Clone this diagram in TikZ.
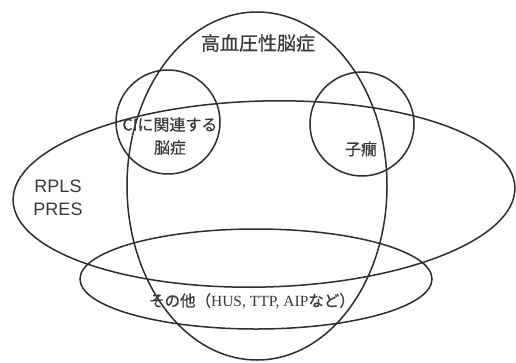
\documentclass[tikz,border=0pt]{standalone}
\usepackage{fontspec}
\setmainfont{Liberation Serif}
\newfontfamily\jpfont[FakeBold=0.6]{Noto Sans CJK JP}
\newfontfamily\lsans{Liberation Sans}
\definecolor{linec}{HTML}{2E2E2E}
\definecolor{textc}{HTML}{3A3A3A}
\begin{document}
\begin{tikzpicture}[x=1pt,y=-1pt,
  setline/.style={draw=linec,line width=1.5pt},
  lbl/.style={text=textc,inner sep=0pt,align=center}]
\useasboundingbox (0,0) rectangle (516,362);
\fill[white] (0,0) rectangle (516,362);
% tall ellipse
\draw[setline] (257,186) ellipse [x radius=130pt, y radius=174pt];
% big horizontal ellipse
\draw[setline,shift={(264,194)},rotate=1.5] (0,0) ellipse [x radius=251pt, y radius=93pt];
% bottom ellipse
\draw[setline] (256,279) ellipse [x radius=176pt, y radius=50pt];
% circles
\draw[setline] (168,122) circle [radius=52pt];
\draw[setline] (362,124) circle [radius=52pt];
% labels
\node[lbl,font=\jpfont\fontsize{19pt}{22pt}\selectfont] (hyp) at (258,43) {高血圧性脳症};
\node[lbl,font=\jpfont\fontsize{16pt}{23pt}\selectfont] (ci) at (170,136) {CIに関連する\\脳症};
\node[lbl,font=\jpfont\fontsize{16pt}{19pt}\selectfont] (ecl) at (361,149) {子癇};
\node[lbl,font=\lsans\fontsize{18pt}{23pt}\selectfont] (rpls) at (58,198) {RPLS\\PRES};
\node[lbl,font=\fontsize{15.5pt}{18pt}\selectfont] (other) at (252,301) {{\jpfont その他（}HUS, TTP, AIP{\jpfont など）}};
\end{tikzpicture}
\end{document}
